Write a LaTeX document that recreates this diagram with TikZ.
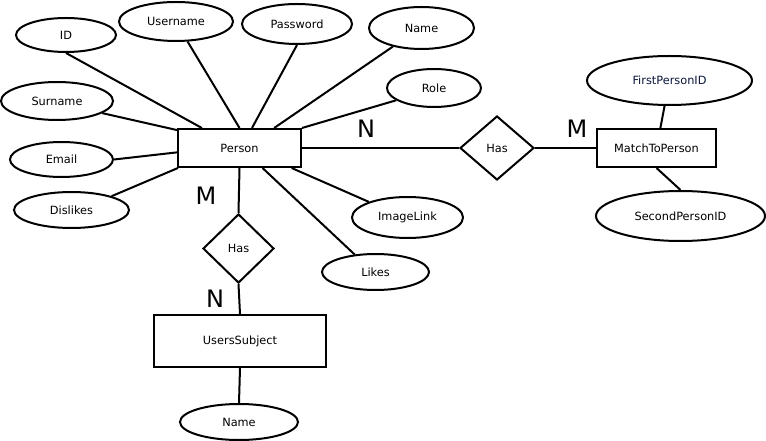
\documentclass[tikz,border=0pt]{standalone}
\usepackage{fontspec}
\setmainfont{DejaVu Sans}
\usetikzlibrary{shapes.geometric}
\definecolor{idnavy}{RGB}{10, 22, 60}
\newcommand{\px}{0.75pt}

\tikzset{
    attr/.style={draw, ellipse, line width=1.5pt, inner sep=0pt, font=\fontsize{8.5}{10}\selectfont},
    entity/.style={draw, rectangle, line width=1.5pt, inner sep=0pt, font=\fontsize{8.5}{10}\selectfont},
    relation/.style={draw, diamond, line width=1.5pt, inner sep=0pt, font=\fontsize{8.5}{10}\selectfont},
    card/.style={font=\fontsize{18}{20}\selectfont},
    link/.style={line width=1.5pt}
}

\begin{document}
\begin{tikzpicture}[x=0.75pt, y=-0.75pt]
            \useasboundingbox (0, 0) rectangle (766, 441);

            % entities
            \node[entity, minimum width=123*\px, minimum height=38*\px] (person) at (239.5, 148) {Person};
            \node[entity, minimum width=119*\px, minimum height=38*\px] (match) at (656.5, 148) {MatchToPerson};
            \node[entity, minimum width=172*\px, minimum height=52*\px] (subject) at (240, 341) {UsersSubject};

            % relations
            \node[relation, minimum width=74*\px, minimum height=64*\px] (hasright) at (497, 148) {Has};
            \node[relation, minimum width=71*\px, minimum height=69*\px] (hasdown) at (238.5, 248.5) {Has};

            % attributes of person
            \node[attr, minimum width=100*\px, minimum height=34*\px] (id) at (66, 35) {ID};
            \node[attr, minimum width=114*\px, minimum height=39*\px] (username) at (176, 21.5) {Username};
            \node[attr, minimum width=110*\px, minimum height=40*\px] (password) at (297, 24) {Password};
            \node[attr, minimum width=105*\px, minimum height=42*\px] (name) at (421.5, 28) {Name};
            \node[attr, minimum width=94*\px, minimum height=38*\px] (role) at (434, 88) {Role};
            \node[attr, minimum width=112*\px, minimum height=38*\px] (surname) at (57, 101) {Surname};
            \node[attr, minimum width=103*\px, minimum height=35*\px] (email) at (61.5, 159.5) {Email};
            \node[attr, minimum width=115*\px, minimum height=36*\px] (dislikes) at (71.5, 210) {Dislikes};
            \node[attr, minimum width=111*\px, minimum height=41*\px] (imagelink) at (407.5, 217.5) {ImageLink};
            \node[attr, minimum width=107*\px, minimum height=36*\px] (likes) at (375.5, 272) {Likes};

            % attributes of the other entities
            \node[attr, minimum width=165*\px, minimum height=49*\px, text=idnavy] (firstid) at (669.5, 80.5) {FirstPersonID};
            \node[attr, minimum width=169*\px, minimum height=50*\px] (secondid) at (680.5, 216) {SecondPersonID};
            \node[attr, minimum width=118*\px, minimum height=36*\px] (subjname) at (239, 422) {Name};

            % connect person to its attributes
            \foreach \a/\pa/\ea in {id/152.5/south, username/north/300, password/58.8/south,
                name/30.3/213.7, role/north east/198, surname/164.5/345, email/184.6/east,
                dislikes/198.6/19, imagelink/339.4/158.6, likes/319.8/140}
            \draw[link] (person.\pa) -- (\a.\ea);

            % relations
            \draw[link] (person.east) -- (hasright.west);
            \draw[link] (hasright.east) -- (match.west);
            \draw[link] (person.south) -- (hasdown.north);
            \draw[link] (hasdown.south) -- (subject.north);

            % other attributes
            \draw[link] (match.79.6) -- (firstid.259.6);
            \draw[link] (match.south) -- (secondid.north);
            \draw[link] (subject.south) -- (subjname.north);

            % cardinalities
            \node[card] (cardn1) at (366, 129) {N};
            \node[card] (cardm1) at (577, 129) {M};
            \node[card] (cardm2) at (206, 196) {M};
            \node[card] (cardn2) at (215, 298.5) {N};
        \end{tikzpicture}
\end{document}
